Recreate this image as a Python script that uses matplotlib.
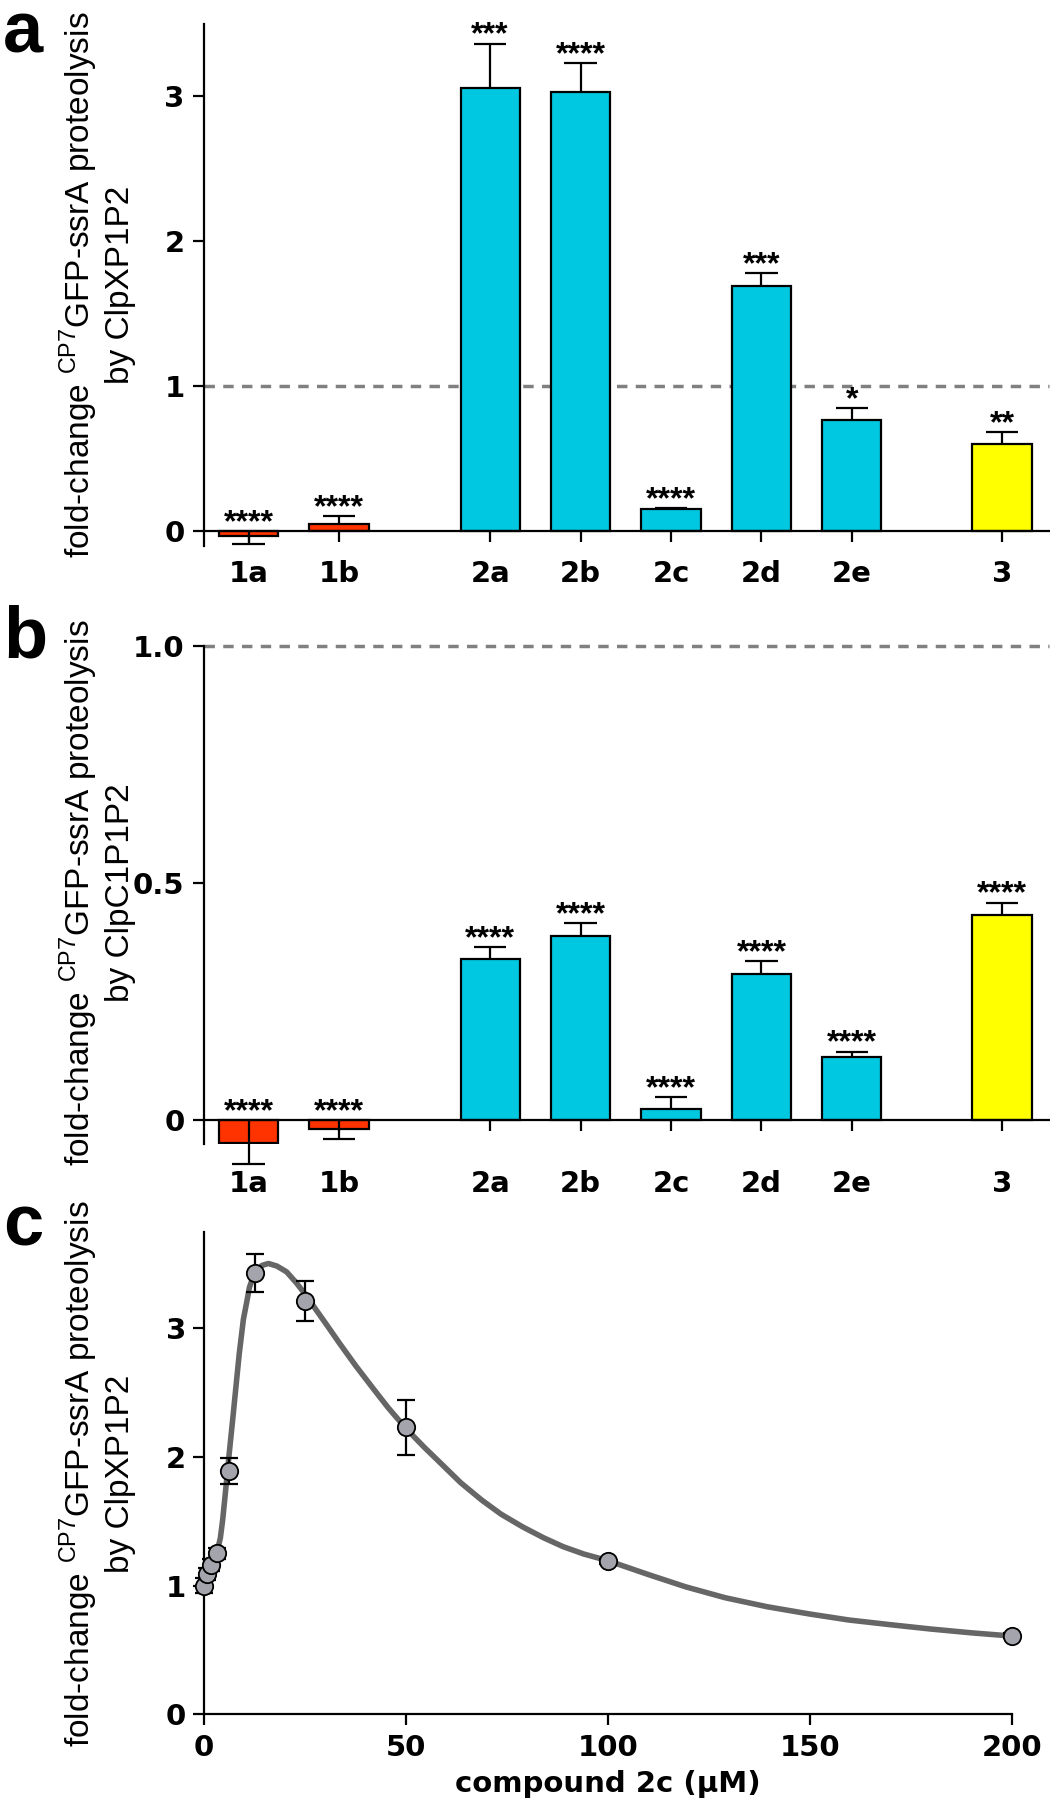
import matplotlib.pyplot as plt

plt.rcParams['font.family'] = ['DejaVu Sans']
plt.rcParams['mathtext.fontset'] = 'custom'
plt.rcParams['mathtext.rm'] = 'Liberation Sans'

# bar panels (a, b)
compounds = ['1a', '1b', '2a', '2b', '2c', '2d', '2e', '3']
bar_colors = ['#FF3300', '#FF3300', '#00C8E0', '#00C8E0', '#00C8E0',
              '#00C8E0', '#00C8E0', '#FFFF00']

clpx_mean = [-0.033, 0.048, 3.06, 3.03, 0.15, 1.69, 0.765, 0.605]
clpx_err = [0.057, 0.054, 0.305, 0.20, 0.01, 0.09, 0.082, 0.077]
clpx_stars = ['****', '****', '***', '****', '****', '***', '*', '**']

clpc_mean = [-0.047, -0.018, 0.341, 0.388, 0.023, 0.309, 0.134, 0.432]
clpc_err = [0.045, 0.022, 0.024, 0.028, 0.026, 0.026, 0.011, 0.027]
clpc_stars = ['****', '****', '****', '****', '****', '****', '****', '****']

# dose response (c)
conc = [0, 0.78, 1.56, 3.125, 6.25, 12.5, 25, 50, 100, 200]
fold = [1.0, 1.09, 1.16, 1.25, 1.89, 3.43, 3.21, 2.23, 1.19, 0.61]
fold_err = [0.06, 0.05, 0.05, 0.04, 0.10, 0.145, 0.155, 0.215, 0.02, 0.02]

# fitted curve
fit_x = [0, 1.0, 1.85, 3.25, 4.0, 4.57, 5.4, 6.2, 7.05, 7.87, 8.7, 9.7, 10.5,
         11.2, 12.1, 13.0, 14.3, 15.9, 18.0, 20.4, 22.8, 25.4, 27.8, 30.5, 33.6,
         37.5, 41.9, 45.5, 50, 54.5, 58.6, 63.5, 68.7, 73.5, 78.8, 84.0, 88.9,
         94.0, 100, 110, 119.2, 129, 139.4, 150, 159.6, 170, 179.8, 190, 200]
fit_y = [1.0, 1.09, 1.16, 1.27, 1.37, 1.51, 1.77, 2.03, 2.29, 2.55, 2.81, 3.07,
         3.20, 3.32, 3.40, 3.45, 3.49, 3.505, 3.485, 3.44, 3.355, 3.25, 3.14,
         3.02, 2.88, 2.71, 2.53, 2.385, 2.22, 2.075, 1.95, 1.80, 1.665, 1.555,
         1.457, 1.372, 1.302, 1.245, 1.193, 1.085, 0.99, 0.905, 0.835, 0.778,
         0.732, 0.695, 0.662, 0.632, 0.607]

bar_pos = [0, 1, 2.67, 3.67, 4.67, 5.67, 6.67, 8.33]
ylab = 'fold-change $^{\\mathrm{CP7}}$GFP-ssrA proteolysis\nby '
TICK = dict(fontsize=21, fontweight='bold')

fig = plt.figure(figsize=(10.5, 18), dpi=100)


def bar_panel(rect, means, errs, stars, ylim, yticks, yticklabels, pad):
    ax = fig.add_axes(rect)
    ax.set_xlim(-0.494, 8.85)
    ax.set_ylim(*ylim)
    ax.axhline(1.0, color='#808080', lw=2.5, dashes=(3, 2.4), zorder=0,
               clip_on=False)
    ax.bar(bar_pos, means, width=0.655, color=bar_colors, edgecolor='black',
           linewidth=1.6, zorder=2)
    for x, m, e, s in zip(bar_pos, means, errs, stars):
        if m >= 0:
            start, end = m, m + e
            top = end
        else:
            start, end = 0, m - e
            top = 0
        ax.vlines(x, start, end, color='black', lw=1.6, zorder=3, clip_on=False)
        ax.hlines(end, x - 0.18, x + 0.18, color='black', lw=1.6, zorder=3,
                  clip_on=False)
        ax.annotate(s, (x, top), xytext=(0, 0), textcoords='offset points',
                    ha='center', va='baseline', fontsize=23, fontweight='bold',
                    family='Liberation Sans')
    ax.spines['top'].set_visible(False)
    ax.spines['right'].set_visible(False)
    ax.spines['bottom'].set_position(('data', 0))
    for sp in ('left', 'bottom'):
        ax.spines[sp].set_linewidth(1.6)
    ax.set_xticks(bar_pos, compounds, **TICK)
    ax.set_yticks(yticks, yticklabels, **TICK)
    ax.tick_params(axis='both', length=8, width=1.6)
    ax.tick_params(axis='x', pad=pad)
    ax.tick_params(axis='y', pad=6)
    return ax


bar_panel([0.19429, 0.69683, 0.80476, 0.28984], clpx_mean, clpx_err, clpx_stars,
          (-0.1, 3.5), [0, 1, 2, 3], ['0', '1', '2', '3'], 13)
bar_panel([0.19429, 0.36444, 0.80476, 0.27667], clpc_mean, clpc_err, clpc_stars,
          (-0.05, 1.0), [0, 0.5, 1.0], ['0', '0.5', '1.0'], 28)

# panel c
ax = fig.add_axes([0.19448, 0.04772, 0.76933, 0.26784])
ax.set_xlim(0, 200)
ax.set_ylim(0, 3.75)
ax.plot(fit_x, fit_y, color='#666666', lw=4, solid_joinstyle='round',
        solid_capstyle='round', zorder=2)
ax.errorbar(conc, fold, yerr=fold_err, fmt='none', ecolor='black', elinewidth=1.6,
            capsize=6.5, capthick=1.6, zorder=3, clip_on=False)
ax.plot(conc, fold, 'o', ms=12.5, mfc='#A4A4AC', mec='black', mew=1.3,
        zorder=4, clip_on=False)
ax.spines['top'].set_visible(False)
ax.spines['right'].set_visible(False)
for sp in ('left', 'bottom'):
    ax.spines[sp].set_linewidth(1.6)
ax.set_xticks([0, 50, 100, 150, 200], ['0', '50', '100', '150', '200'], **TICK)
ax.set_yticks([0, 1, 2, 3], ['0', '1', '2', '3'], **TICK)
ax.tick_params(axis='both', length=8, width=1.6)
ax.tick_params(axis='x', pad=6)
ax.tick_params(axis='y', pad=5)
ax.set_xlabel('compound 2c (µM)', fontsize=21, fontweight='bold', labelpad=6)

# y labels and panel letters
for yc, enz in [(0.8417, 'ClpXP1P2'), (0.5039, 'ClpC1P1P2'), (0.1811, 'ClpXP1P2')]:
    fig.text(0.0924, yc, ylab + enz, rotation=90, ha='center', va='center',
             multialignment='center', fontsize=24, family='Liberation Sans')

for yb, letter in [(0.9706, 'a'), (0.635, 'b'), (0.3078, 'c')]:
    fig.text(0.003, yb, letter, ha='left', va='baseline', fontsize=52,
             fontweight='bold', family='Liberation Sans')

fig.savefig('out.png', dpi=100)
